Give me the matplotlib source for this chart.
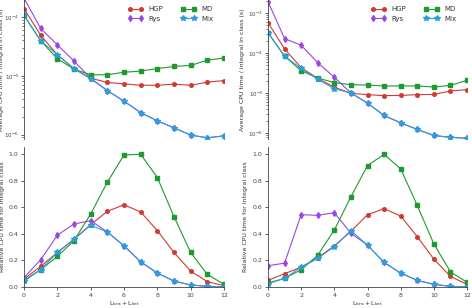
import matplotlib
matplotlib.use("Agg")
import matplotlib.pyplot as plt
import numpy as np

L = list(range(13))
methods = ["HGP", "Rys", "MD", "Mix"]

# top-left: average CPU time per integral (s)
avg_left = {
    "HGP": [1.39e-4, 4.9e-5, 2.28e-5, 1.32e-5, 9.1e-6, 7.7e-6, 7.3e-6, 6.9e-6, 6.9e-6, 7.2e-6, 6.9e-6, 7.8e-6, 8.3e-6],
    "Rys": [2.1e-4, 6.4e-5, 3.37e-5, 1.78e-5, 9.1e-6, 5.6e-6, 3.7e-6, 2.36e-6, 1.71e-6, 1.3e-6, 9.8e-7, 8.8e-7, 9.5e-7],
    "MD":  [1.07e-4, 3.95e-5, 1.95e-5, 1.3e-5, 1.04e-5, 1.04e-5, 1.15e-5, 1.2e-5, 1.33e-5, 1.44e-5, 1.5e-5, 1.85e-5, 2.0e-5],
    "Mix": [1.07e-4, 3.95e-5, 2.28e-5, 1.32e-5, 8.9e-6, 5.6e-6, 3.7e-6, 2.36e-6, 1.71e-6, 1.3e-6, 9.8e-7, 8.8e-7, 9.5e-7],
}
# top-right
avg_right = {
    "HGP": [5.7e-4, 1.26e-4, 4.3e-5, 2.3e-5, 1.4e-5, 9.8e-6, 9.1e-6, 8.6e-6, 8.7e-6, 9.1e-6, 9.2e-6, 1.12e-5, 1.21e-5],
    "Rys": [1.9e-3, 2.28e-4, 1.56e-4, 5.7e-5, 2.47e-5, 1.0e-5, 5.6e-6, 2.75e-6, 1.8e-6, 1.23e-6, 8.7e-7, 7.8e-7, 7.4e-7],
    "MD":  [3.2e-4, 8.3e-5, 3.6e-5, 2.37e-5, 1.81e-5, 1.61e-5, 1.58e-5, 1.5e-5, 1.5e-5, 1.5e-5, 1.41e-5, 1.55e-5, 2.07e-5],
    "Mix": [3.2e-4, 8.3e-5, 4.1e-5, 2.2e-5, 1.28e-5, 1.0e-5, 5.6e-6, 2.75e-6, 1.8e-6, 1.23e-6, 8.7e-7, 7.8e-7, 7.4e-7],
}
# bottom-left: relative CPU time
rel_left = {
    "HGP": [0.06, 0.155, 0.26, 0.36, 0.47, 0.57, 0.62, 0.565, 0.425, 0.26, 0.12, 0.04, 0.01],
    "Rys": [0.07, 0.205, 0.39, 0.475, 0.50, 0.415, 0.31, 0.19, 0.105, 0.045, 0.015, 0.005, 0.0],
    "MD":  [0.05, 0.13, 0.23, 0.35, 0.55, 0.79, 0.995, 1.0, 0.825, 0.53, 0.26, 0.095, 0.02],
    "Mix": [0.045, 0.13, 0.26, 0.36, 0.465, 0.415, 0.31, 0.19, 0.105, 0.045, 0.015, 0.005, 0.0],
}
rel_right = {
    "HGP": [0.05, 0.10, 0.15, 0.22, 0.31, 0.42, 0.545, 0.59, 0.535, 0.38, 0.21, 0.08, 0.02],
    "Rys": [0.16, 0.18, 0.545, 0.54, 0.56, 0.405, 0.315, 0.185, 0.105, 0.05, 0.02, 0.005, 0.0],
    "MD":  [0.03, 0.065, 0.13, 0.24, 0.43, 0.68, 0.915, 1.0, 0.89, 0.615, 0.325, 0.115, 0.035],
    "Mix": [0.025, 0.065, 0.15, 0.215, 0.305, 0.425, 0.315, 0.185, 0.105, 0.05, 0.02, 0.005, 0.0],
}

colors = {"HGP": "#d03b32", "Rys": "#9b45e4", "MD": "#1f9a2e", "Mix": "#2b9fdb"}
markers = {"HGP": "o", "Rys": "d", "MD": "s", "Mix": "*"}
msizes = {"HGP": 2.6, "Rys": 3.0, "MD": 3.0, "Mix": 3.8}

plt.rcParams.update({
    "font.family": "DejaVu Sans",
    "font.size": 4.5,
    "axes.edgecolor": "#444444",
    "axes.linewidth": 0.6,
    "xtick.color": "#444444",
    "ytick.color": "#444444",
    "xtick.major.width": 0.6,
    "ytick.major.width": 0.6,
    "ytick.minor.width": 0.5,
    "xtick.major.size": 2.5,
    "ytick.major.size": 2.5,
    "ytick.minor.size": 1.5,
    "text.color": "#333333",
    "axes.labelcolor": "#333333",
})

fig = plt.figure(figsize=(4.72, 3.08), dpi=100)
lefts = [24 / 472, 268 / 472]
widths = [200, 199]
top_ax = []
bot_ax = []
for i in range(2):
    a = fig.add_axes([lefts[i], 1 - 139 / 308, widths[i] / 472, 139 / 308])
    b = fig.add_axes([lefts[i], 1 - 287 / 308, widths[i] / 472, 140 / 308])
    top_ax.append(a)
    bot_ax.append(b)

ylims = [(8.4e-7, 1.95e-4), (7.1e-7, 2.1e-3)]
top_label_px = [-20.5, -23]
bot_label_px = [-19, -20]
for i, (avg, rel) in enumerate([(avg_left, rel_left), (avg_right, rel_right)]):
    a = top_ax[i]
    b = bot_ax[i]
    for m in methods:
        a.plot(L, avg[m], color=colors[m], marker=markers[m], ms=msizes[m], lw=0.8, label=m)
        b.plot(L, rel[m], color=colors[m], marker=markers[m], ms=msizes[m], lw=0.8, label=m)
    a.set_yscale("log")
    a.set_ylim(*ylims[i])
    a.set_xlim(0, 12)
    a.spines["top"].set_visible(False)
    a.spines["right"].set_visible(False)
    a.spines["bottom"].set_visible(False)
    a.tick_params(axis="x", bottom=False, labelbottom=False)
    a.set_ylabel("Average CPU time / integral in class (s)")
    a.yaxis.set_label_coords(top_label_px[i] / widths[i], 0.5)
    a.tick_params(axis="y", pad=1.0, labelsize=4.1)
    a.legend(ncol=2, frameon=False, loc="upper right", numpoints=2, fontsize=5,
             handlelength=2.2, columnspacing=2.5, bbox_to_anchor=(0.98, 1.0))

    b.set_xlim(0, 12)
    b.set_ylim(0, 1.055)
    b.set_xticks(range(0, 13, 2))
    b.set_yticks([0.0, 0.2, 0.4, 0.6, 0.8, 1.0])
    b.spines["top"].set_visible(False)
    b.spines["right"].set_visible(False)
    b.set_ylabel("Relative CPU time for integral class")
    b.yaxis.set_label_coords(bot_label_px[i] / widths[i], 0.5)
    b.set_xlabel(r"$\mathrm{L_{bra} + L_{ket}}$", labelpad=1)
    b.tick_params(axis="both", pad=1.5)

fig.savefig("out.png", dpi=100)
